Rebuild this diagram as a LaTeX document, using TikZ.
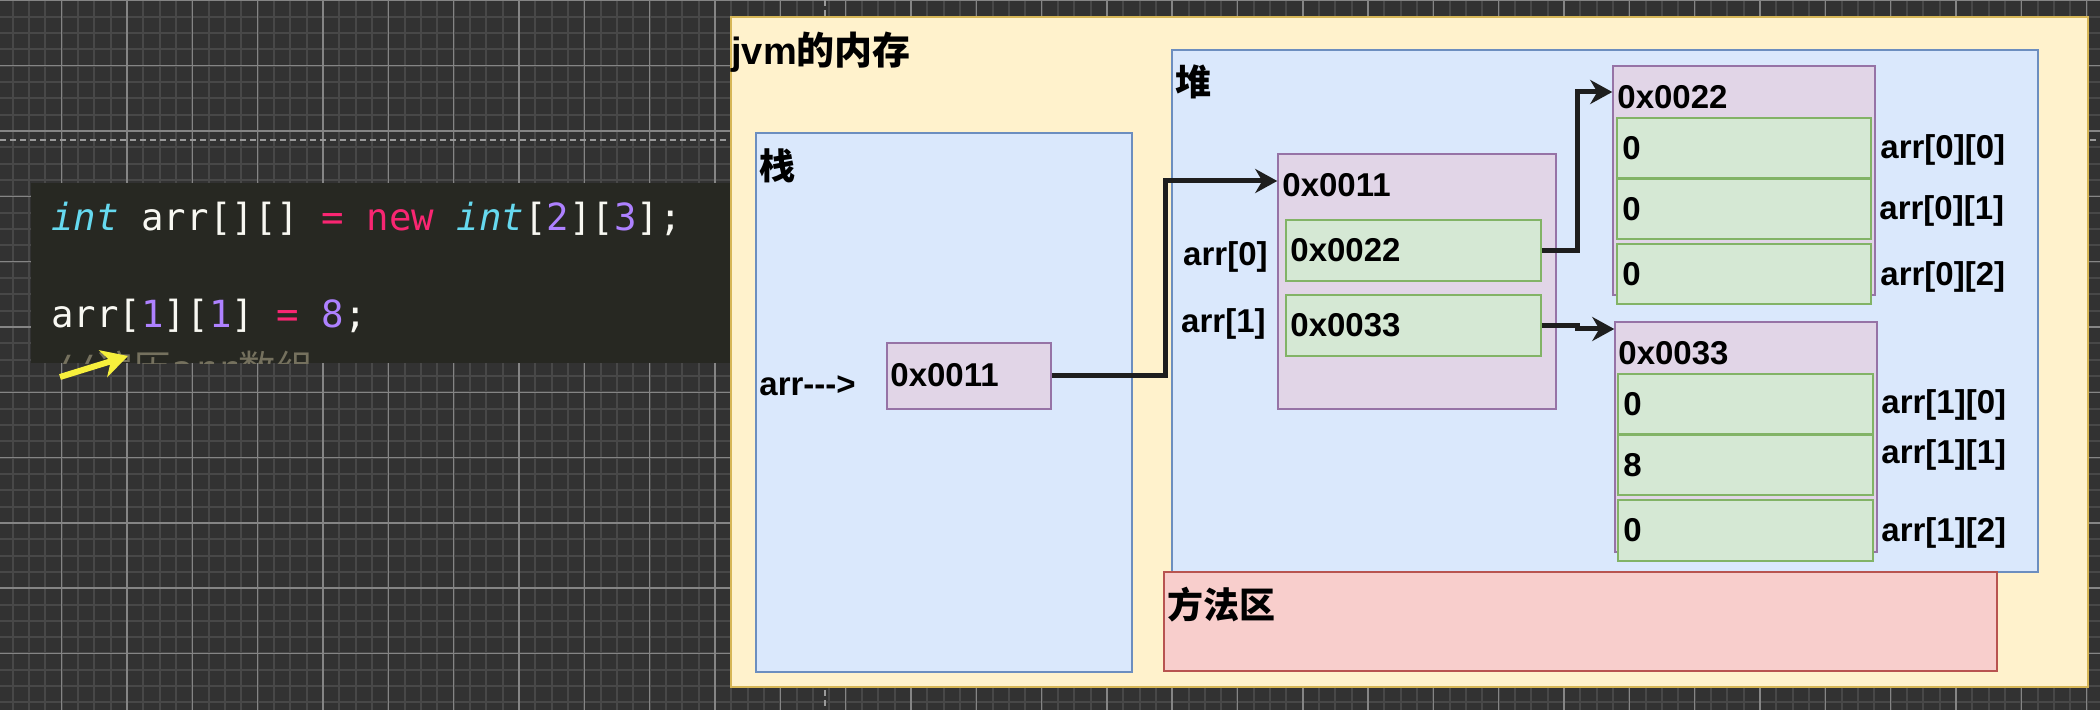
\documentclass[tikz,border=0pt]{standalone}
\usepackage{fontspec}
\setmainfont{Liberation Sans}
\newfontfamily\cjk{Noto Sans CJK SC}
\newfontfamily\codefont{DejaVu Sans Mono}
\usetikzlibrary{arrows.meta,fit}
\definecolor{bgc}{HTML}{323232}
\definecolor{gminorc}{HTML}{484848}
\definecolor{gmajorc}{HTML}{858585}
\definecolor{pbc}{HTML}{9A9A9A}
\definecolor{codebg}{HTML}{272822}
\definecolor{mkfg}{HTML}{F8F8F2}
\definecolor{mkcyan}{HTML}{66D9EF}
\definecolor{mkpink}{HTML}{F92672}
\definecolor{mkpurple}{HTML}{AE81FF}
\definecolor{mkgrey}{HTML}{75715E}
\definecolor{yfill}{HTML}{FFF2CC}
\definecolor{ystroke}{HTML}{D6B656}
\definecolor{bfill}{HTML}{DAE8FC}
\definecolor{bstroke}{HTML}{6C8EBF}
\definecolor{rfill}{HTML}{F8CECC}
\definecolor{rstroke}{HTML}{B85450}
\definecolor{pfill}{HTML}{E1D5E7}
\definecolor{pstroke}{HTML}{9673A6}
\definecolor{gfill}{HTML}{D5E8D4}
\definecolor{gstroke}{HTML}{82B366}
\definecolor{arrc}{HTML}{1E1E1E}
\definecolor{yarr}{HTML}{F7F03C}
\begin{document}
\begin{tikzpicture}[x=0.5pt,y=-0.5pt,
  gminor/.style={draw=gminorc,line width=1pt},
  gmajor/.style={draw=gmajorc,line width=0.7pt},
  pbreak/.style={draw=pbc,line width=1pt,dash pattern=on 3pt off 2pt},
  bx/.style={inner sep=0pt,line width=0.75pt},
  ybox/.style={bx,fill=yfill,draw=ystroke},
  bbox/.style={bx,fill=bfill,draw=bstroke},
  rbox/.style={bx,fill=rfill,draw=rstroke},
  pbox/.style={bx,fill=pfill,draw=pstroke},
  gbox/.style={bx,fill=gfill,draw=gstroke},
  lbl/.style={inner sep=0pt,text=black,font=\fontsize{16.5}{19}\selectfont\bfseries},
  cj/.style={inner sep=0pt,text=black,font=\cjk\bfseries\fontsize{18}{21}\selectfont},
  jt/.style={inner sep=0pt,text=black,font=\bfseries\fontsize{19}{22}\selectfont},
  code/.style={inner sep=0pt,text=mkfg,font=\codefont\fontsize{18.7}{22}\selectfont},
  ptr/.style={draw=arrc,line width=2.5pt,-{Stealth[length=11pt,width=12pt,inset=3.5pt]}},
  yptr/.style={draw=yarr,line width=3pt,-{Stealth[length=13pt,width=14pt,inset=4pt]}}
]
\useasboundingbox (0,0) rectangle (2100,710);
% background and grid
\fill[bgc] (0,0) rectangle (2100,710);
\foreach \i in {0,...,129} {\draw[gminor] ({-3.6+\i*16.33},0) -- ({-3.6+\i*16.33},710);}
\foreach \i in {0,...,44} {\draw[gminor] (0,{0.3+\i*16.33}) -- (2100,{0.3+\i*16.33});}
\foreach \i in {0,...,33} {\draw[gmajor] ({-3.6+\i*65.32},0) -- ({-3.6+\i*65.32},710);}
\foreach \i in {0,...,11} {\draw[gmajor] (0,{0.3+\i*65.32}) -- (2100,{0.3+\i*65.32});}
\draw[pbreak] (0,140) -- (2100,140);
\draw[pbreak] (825,0) -- (825,710);

% code panel
\node[fill=codebg,inner sep=0pt,fit={(31,183) (735,363)}] (codebox) {};
\node[code,anchor=base west] (c1) at (51,231) {\textcolor{mkcyan}{\itshape int} arr[][] \textcolor{mkpink}{=} \textcolor{mkpink}{new} \textcolor{mkcyan}{\itshape int}[\textcolor{mkpurple}{2}][\textcolor{mkpurple}{3}];};
\node[code,anchor=base west] (c2) at (51,328) {arr[\textcolor{mkpurple}{1}][\textcolor{mkpurple}{1}] \textcolor{mkpink}{=} \textcolor{mkpurple}{8};};
\begin{scope}
  \clip (codebox.north west) rectangle (codebox.south east);
  \node[code,anchor=base west,text=mkgrey] (c3) at (51,383) {//{\cjk 遍历}arr{\cjk 数组}};
\end{scope}
\coordinate (ya) at (60,377);
\coordinate (yb) at (128,356);
\draw[yptr] (ya) -- (yb);

% jvm memory
\node[ybox,fit={(731,17) (2088,687)}] (jvm) {};
\node[jt,anchor=west] (tjvm) at (731,52) {jvm{\cjk 的内存}};

% stack
\node[bbox,fit={(756,133) (1132,672)}] (stack) {};
\node[cj,anchor=west] (tzhan) at (759,166) {栈};
\node[lbl,anchor=west] (tarr) at (759,386) {arr\mbox{-}\mbox{-}\mbox{-}>};
\node[pbox,fit={(887,343) (1051,409)}] (sp) {};
\node[lbl,anchor=west] (tsp) at (890,375) {0x0011};

% heap
\node[bbox,fit={(1172,50) (2038,572)}] (heap) {};
\node[cj,anchor=west] (tdui) at (1175,82) {堆};

% method area
\node[rbox,fit={(1164,572) (1997,671)}] (method) {};
\node[cj,anchor=west] (tff) at (1167,605) {方法区};

% outer array
\node[pbox,fit={(1278,154) (1556,409)}] (harr) {};
\node[lbl,anchor=west] (th) at (1282,185) {0x0011};
\node[gbox,fit={(1286,220) (1541,281)}] (e0) {};
\node[lbl,anchor=west] (te0) at (1290,250) {0x0022};
\node[gbox,fit={(1286,295) (1541,356)}] (e1) {};
\node[lbl,anchor=west] (te1) at (1290,325) {0x0033};
\node[lbl,anchor=east] (ti0) at (1268,257) {arr[0]};
\node[lbl,anchor=east] (ti1) at (1266,324) {arr[1]};

% inner array 0
\node[pbox,fit={(1613,66) (1875,295)}] (a0) {};
\node[lbl,anchor=west] (ta0) at (1617,97) {0x0022};
\node[gbox,fit={(1617,118) (1871,178)}] (a00) {};
\node[gbox,fit={(1617,179) (1871,239)}] (a01) {};
\node[gbox,fit={(1617,244) (1871,304)}] (a02) {};
\node[lbl,anchor=west] (v00) at (1622,148) {0};
\node[lbl,anchor=west] (v01) at (1622,209) {0};
\node[lbl,anchor=west] (v02) at (1622,274) {0};
\node[lbl,anchor=west] (l00) at (1880,150) {arr[0][0]};
\node[lbl,anchor=west] (l01) at (1879,211) {arr[0][1]};
\node[lbl,anchor=west] (l02) at (1880,277) {arr[0][2]};

% inner array 1
\node[pbox,fit={(1615,322) (1877,552)}] (a1) {};
\node[lbl,anchor=west] (ta1) at (1618,353) {0x0033};
\node[gbox,fit={(1618,374) (1873,434)}] (a10) {};
\node[gbox,fit={(1618,435) (1873,495)}] (a11) {};
\node[gbox,fit={(1618,500) (1873,561)}] (a12) {};
\node[lbl,anchor=west] (v10) at (1623,404) {0};
\node[lbl,anchor=west] (v11) at (1623,465) {8};
\node[lbl,anchor=west] (v12) at (1623,530) {0};
\node[lbl,anchor=west] (l10) at (1881,405) {arr[1][0]};
\node[lbl,anchor=west] (l11) at (1881,455) {arr[1][1]};
\node[lbl,anchor=west] (l12) at (1881,533) {arr[1][2]};

% pointers
\coordinate (b1) at (1165,181);
\draw[ptr] (sp.east) -| (b1) -- (b1 -| harr.west);
\coordinate (b2) at (1577,92);
\draw[ptr] (e0.east) -| (b2) -- (b2 -| a0.west);
\coordinate (b3) at (1577,329);
\draw[ptr] (e1.east) -| (b3) -- (b3 -| a1.west);
\end{tikzpicture}
\end{document}
